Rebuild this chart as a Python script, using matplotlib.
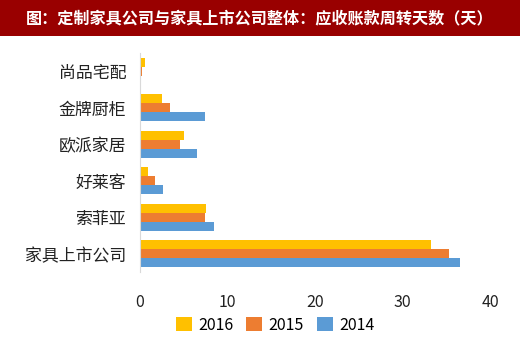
# receivable turnover days: custom furniture companies vs listed furniture companies

import numpy as np
import matplotlib.pyplot as plt
from matplotlib.patches import Rectangle

plt.rcParams['font.family'] = ['Noto Sans CJK SC', 'DejaVu Sans']

# data
companies = ['尚品宅配', '金牌厨柜', '欧派家居', '好莱客', '索菲亚', '家具上市公司']
years = ['2016', '2015', '2014']
days_2016 = [0.6, 2.5, 5.0, 0.9, 7.5, 33.3]
days_2015 = [0.25, 3.4, 4.6, 1.75, 7.4, 35.3]
days_2014 = [0.1, 7.4, 6.5, 2.6, 8.4, 36.6]
colors = ['#FFC000', '#ED7D31', '#5B9BD5']
xticks = [0, 10, 20, 30, 40]

fig = plt.figure(figsize=(5.2, 3.52), dpi=100)

# title banner
fig.patches.append(Rectangle((0, 1 - 36 / 352), 1, 36 / 352, transform=fig.transFigure,
                             facecolor='#990000', edgecolor='none'))
fig.text(0.5, 1 - 18 / 352, '图：定制家具公司与家具上市公司整体：应收账款周转天数（天）',
         color='white', fontsize=11.6, fontweight='bold', ha='center', va='center')

ax = fig.add_axes([140 / 520, 1 - 272 / 352, 350 / 520, 219 / 352])

y = np.arange(len(companies))
h = 0.245
for i, (vals, lab) in enumerate(zip([days_2016, days_2015, days_2014], years)):
    ax.barh(y + (i - 1) * h, vals, height=h, color=colors[i], label=lab)

ax.set_ylim(-0.5, len(companies) - 0.5)
ax.invert_yaxis()
ax.set_xlim(0, 40)
ax.set_xticks(xticks)
ax.set_yticks(y)
ax.set_yticklabels(companies, fontsize=12.2, color='#222222')
ax.tick_params(axis='both', length=0)
ax.tick_params(axis='x', pad=16, labelsize=11.5, labelcolor='#222222')
ax.tick_params(axis='y', pad=10)

for s in ['top', 'right', 'bottom']:
    ax.spines[s].set_visible(False)
ax.spines['left'].set_color('#d9d9d9')

# legend below the axis
ax.legend(loc='center', bbox_to_anchor=((275 - 140) / 350, (272 - 325) / 219),
          ncol=3, frameon=False, fontsize=11.5, handlelength=1.0, handleheight=1.0,
          handletextpad=0.4, columnspacing=0.8)

fig.savefig('out.png', dpi=100)
